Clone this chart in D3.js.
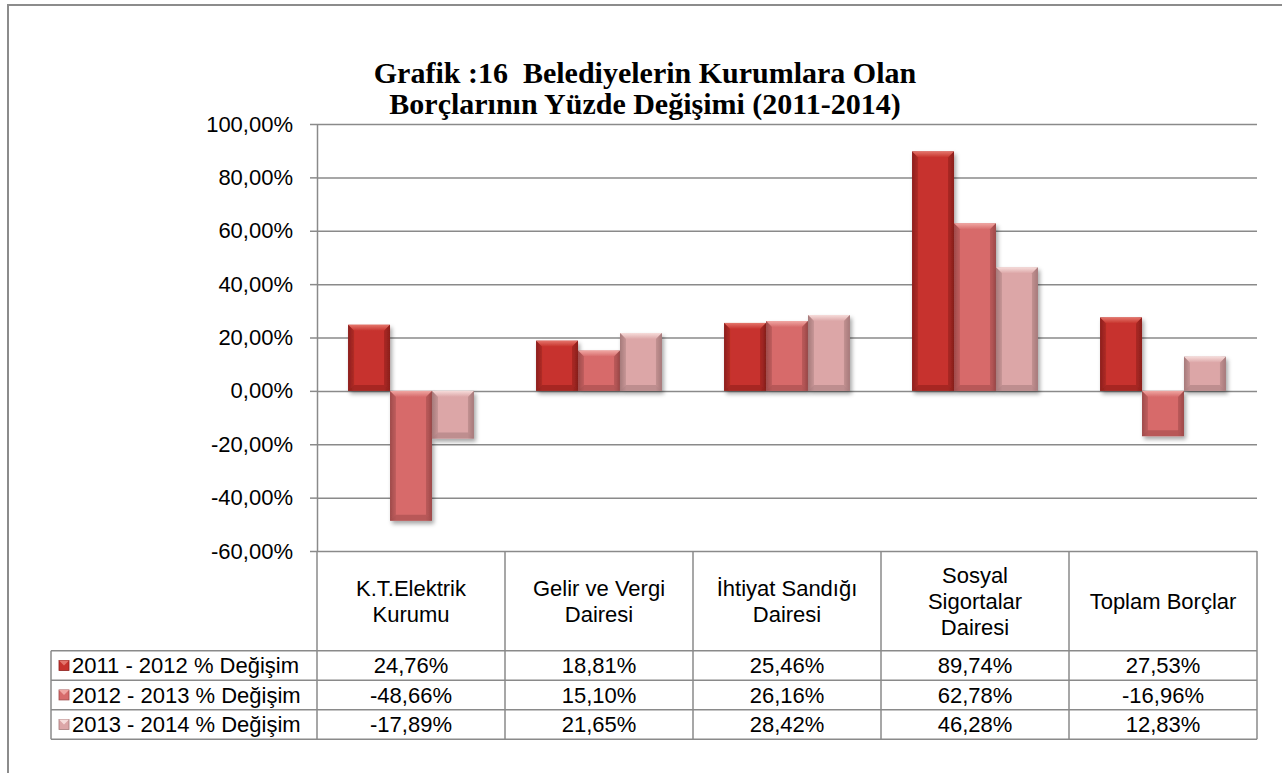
<!DOCTYPE html>
<html>
<head>
<meta charset="utf-8">
<script src="https://cdn.jsdelivr.net/npm/d3@7"></script>
<style>
  body { margin: 0; background: #fff; }
  text { font-family: "Liberation Sans", Arial, sans-serif; fill: #000; }
</style>
</head>
<body>
<svg id="chart" width="1282" height="773"></svg>
<script>
var categories = ["K.T.Elektrik Kurumu", "Gelir ve Vergi Dairesi", "İhtiyat Sandığı Dairesi", "Sosyal Sigortalar Dairesi", "Toplam Borçlar"];
var categoryLines = [["K.T.Elektrik", "Kurumu"], ["Gelir ve Vergi", "Dairesi"], ["İhtiyat Sandığı", "Dairesi"], ["Sosyal", "Sigortalar", "Dairesi"], ["Toplam Borçlar"]];
var seriesNames = ["2011 - 2012 % Değişim", "2012 - 2013 % Değişim", "2013 - 2014 % Değişim"];
var change2011_2012 = [24.76, 18.81, 25.46, 89.74, 27.53];
var change2012_2013 = [-48.66, 15.10, 26.16, 62.78, -16.96];
var change2013_2014 = [-17.89, 21.65, 28.42, 46.28, 12.83];
var yTicks = [-60, -40, -20, 0, 20, 40, 60, 80, 100];
var titleLines = ["Grafik :16  Belediyelerin Kurumlara Olan", "Borçlarının Yüzde Değişimi (2011-2014)"];

var seriesValues = [change2011_2012, change2012_2013, change2013_2014];
// base / light / dark tones for the bevelled bars
var palette = [
    { base: "#c7332d", light: "#e4756b", dark: "#8c1f1c" },
    { base: "#d76b6b", light: "#f0a7a3", dark: "#9e4a4a" },
    { base: "#dca6a7", light: "#f6dcda", dark: "#a67a7b" }
];

var plot = { left: 317, right: 1257, top: 124, bottom: 551 };
var table = { left: 51, headerBottom: 650.7, rowH: 29.5 };
var fontSize = 22;

var tr = d3.formatLocale({ decimal: ",", thousands: ".", grouping: [3], currency: ["", ""], minus: "-" });
var pct = function(v) { return tr.format(".2f")(v) + "%"; };

var svg = d3.select("#chart");
var defs = svg.append("defs");

// outer frame (runs off the right and bottom edge like the source)
svg.append("rect")
    .attr("x", 8).attr("y", 5)
    .attr("width", 1300).attr("height", 800)
    .attr("fill", "none")
    .attr("stroke", "#8c8c8c")
    .attr("stroke-width", 2);

// title
svg.append("g").selectAll("text")
    .data(titleLines)
    .enter().append("text")
    .attr("x", 645)
    .attr("y", function(d, i) { return 83 + i * 31; })
    .attr("text-anchor", "middle")
    .style("font-family", "'Liberation Serif', 'Times New Roman', serif")
    .style("font-weight", "bold")
    .style("font-size", "30px")
    .style("white-space", "pre")
    .text(function(d) { return d; });

var y = d3.scaleLinear().domain([-60, 100]).range([plot.bottom, plot.top]);
var x0 = d3.scaleBand().domain(categories).range([plot.left, plot.right]);
var x1 = d3.scaleBand().domain(seriesNames).range([0, x0.bandwidth()]).paddingOuter(0.74);

// grid lines
svg.append("g")
    .attr("transform", "translate(" + plot.left + ",0)")
    .call(d3.axisLeft(y).tickValues(yTicks).tickSize(-(plot.right - plot.left)).tickFormat(""))
    .call(function(g) { g.select(".domain").remove(); })
    .selectAll("line")
    .attr("stroke", "#8a8a8a")
    .attr("stroke-width", 1.5);

// y axis with tick labels
var yAxis = svg.append("g")
    .attr("transform", "translate(" + plot.left + ",0)")
    .call(d3.axisLeft(y).tickValues(yTicks).tickSize(7).tickSizeOuter(0).tickPadding(17).tickFormat(pct));
yAxis.select(".domain").attr("stroke", "#8a8a8a").attr("stroke-width", 1.5);
yAxis.selectAll(".tick line").attr("stroke", "#8a8a8a").attr("stroke-width", 1.5);
yAxis.selectAll(".tick text")
    .style("font-size", fontSize + "px")
    .attr("fill", "#000");

// gradients and shadow
palette.forEach(function(c, i) {
    var gr = defs.append("linearGradient").attr("id", "body" + i)
        .attr("x1", "0").attr("x2", "1").attr("y1", "0").attr("y2", "0");
    gr.append("stop").attr("offset", "0").attr("stop-color", c.dark);
    gr.append("stop").attr("offset", "0.15").attr("stop-color", c.base);
    gr.append("stop").attr("offset", "0.85").attr("stop-color", c.base);
    gr.append("stop").attr("offset", "1").attr("stop-color", c.dark);
    var top = defs.append("linearGradient").attr("id", "top" + i)
        .attr("x1", "0").attr("x2", "0").attr("y1", "0").attr("y2", "1");
    top.append("stop").attr("offset", "0").attr("stop-color", c.light);
    top.append("stop").attr("offset", "1").attr("stop-color", c.base);
});
var shadow = defs.append("filter").attr("id", "shadow")
    .attr("x", "-20%").attr("y", "-20%").attr("width", "140%").attr("height", "140%");
shadow.append("feDropShadow")
    .attr("dx", 2).attr("dy", 3).attr("stdDeviation", 2)
    .attr("flood-color", "#000").attr("flood-opacity", 0.35);

// bars
var bevel = 6;
var groups = svg.append("g").selectAll("g")
    .data(categories)
    .enter().append("g")
    .attr("transform", function(d) { return "translate(" + x0(d) + ",0)"; });

var bars = groups.selectAll("g")
    .data(function(d, ci) {
        return seriesNames.map(function(s, si) { return { series: s, si: si, value: seriesValues[si][ci] }; });
    })
    .enter().append("g")
    .attr("filter", "url(#shadow)");

bars.each(function(d) {
    var g = d3.select(this);
    var bx = x1(d.series), w = x1.bandwidth();
    var yt = y(Math.max(0, d.value)), yb = y(Math.min(0, d.value));
    var h = yb - yt;
    var b = Math.min(bevel, h / 2);
    var c = palette[d.si];
    g.append("rect")
        .attr("x", bx).attr("y", yt).attr("width", w).attr("height", h)
        .attr("fill", "url(#body" + d.si + ")");
    // top bevel
    g.append("path")
        .attr("d", "M" + bx + "," + yt + "L" + (bx + w) + "," + yt + "L" + (bx + w - b) + "," + (yt + b) + "L" + (bx + b) + "," + (yt + b) + "Z")
        .attr("fill", "url(#top" + d.si + ")");
    // bottom bevel
    g.append("path")
        .attr("d", "M" + bx + "," + yb + "L" + (bx + w) + "," + yb + "L" + (bx + w - b) + "," + (yb - b) + "L" + (bx + b) + "," + (yb - b) + "Z")
        .attr("fill", c.dark).attr("opacity", 0.55);
    // side bevels
    g.append("path")
        .attr("d", "M" + bx + "," + yt + "L" + (bx + b) + "," + (yt + b) + "L" + (bx + b) + "," + (yb - b) + "L" + bx + "," + yb + "Z")
        .attr("fill", c.dark).attr("opacity", 0.35);
    g.append("path")
        .attr("d", "M" + (bx + w) + "," + yt + "L" + (bx + w - b) + "," + (yt + b) + "L" + (bx + w - b) + "," + (yb - b) + "L" + (bx + w) + "," + yb + "Z")
        .attr("fill", c.dark).attr("opacity", 0.45);
});

// data table below the plot
var tableBottom = table.headerBottom + table.rowH * seriesNames.length;
var lines = svg.append("g").attr("stroke", "#8a8a8a").attr("stroke-width", 1.5);
// vertical lines at category borders
lines.selectAll(".vline")
    .data(categories.concat(["end"]))
    .enter().append("line")
    .attr("x1", function(d) { return d === "end" ? plot.right : x0(d); })
    .attr("x2", function(d) { return d === "end" ? plot.right : x0(d); })
    .attr("y1", plot.bottom)
    .attr("y2", tableBottom);
// horizontal row lines
lines.selectAll(".hline")
    .data(d3.range(seriesNames.length + 1))
    .enter().append("line")
    .attr("x1", table.left).attr("x2", plot.right)
    .attr("y1", function(i) { return table.headerBottom + i * table.rowH; })
    .attr("y2", function(i) { return table.headerBottom + i * table.rowH; });
lines.append("line")
    .attr("x1", table.left).attr("x2", table.left)
    .attr("y1", table.headerBottom).attr("y2", tableBottom);

// header cells
var headerMid = (plot.bottom + table.headerBottom) / 2;
var lineH = 26;
var header = svg.append("g").selectAll("text")
    .data(categories)
    .enter().append("text")
    .attr("text-anchor", "middle")
    .style("font-size", fontSize + "px");
header.selectAll("tspan")
    .data(function(d, i) { return categoryLines[i].map(function(t, k) { return { t: t, k: k, n: categoryLines[i].length, cat: d }; }); })
    .enter().append("tspan")
    .attr("x", function(d) { return x0(d.cat) + x0.bandwidth() / 2; })
    .attr("y", function(d) { return headerMid + (d.k - (d.n - 1) / 2) * lineH; })
    .attr("dy", "0.35em")
    .text(function(d) { return d.t; });

// value rows with legend keys
seriesNames.forEach(function(s, si) {
    var rowMid = table.headerBottom + table.rowH * (si + 0.5);
    var c = palette[si];
    var key = svg.append("g");
    key.append("rect")
        .attr("x", 59).attr("y", rowMid - 5).attr("width", 10).attr("height", 10)
        .attr("fill", c.base).attr("stroke", c.dark).attr("stroke-width", 0.8);
    key.append("path")
        .attr("d", "M59," + (rowMid - 5) + "L69," + (rowMid - 5) + "L64," + rowMid + "Z")
        .attr("fill", c.light);
    svg.append("text")
        .attr("x", 72).attr("y", rowMid).attr("dy", "0.35em")
        .style("font-size", fontSize + "px")
        .text(s);
    svg.append("g").selectAll("text")
        .data(seriesValues[si])
        .enter().append("text")
        .attr("x", function(d, i) { return x0(categories[i]) + x0.bandwidth() / 2; })
        .attr("y", rowMid).attr("dy", "0.35em")
        .attr("text-anchor", "middle")
        .style("font-size", fontSize + "px")
        .text(function(d) { return pct(d); });
});
</script>
</body>
</html>
